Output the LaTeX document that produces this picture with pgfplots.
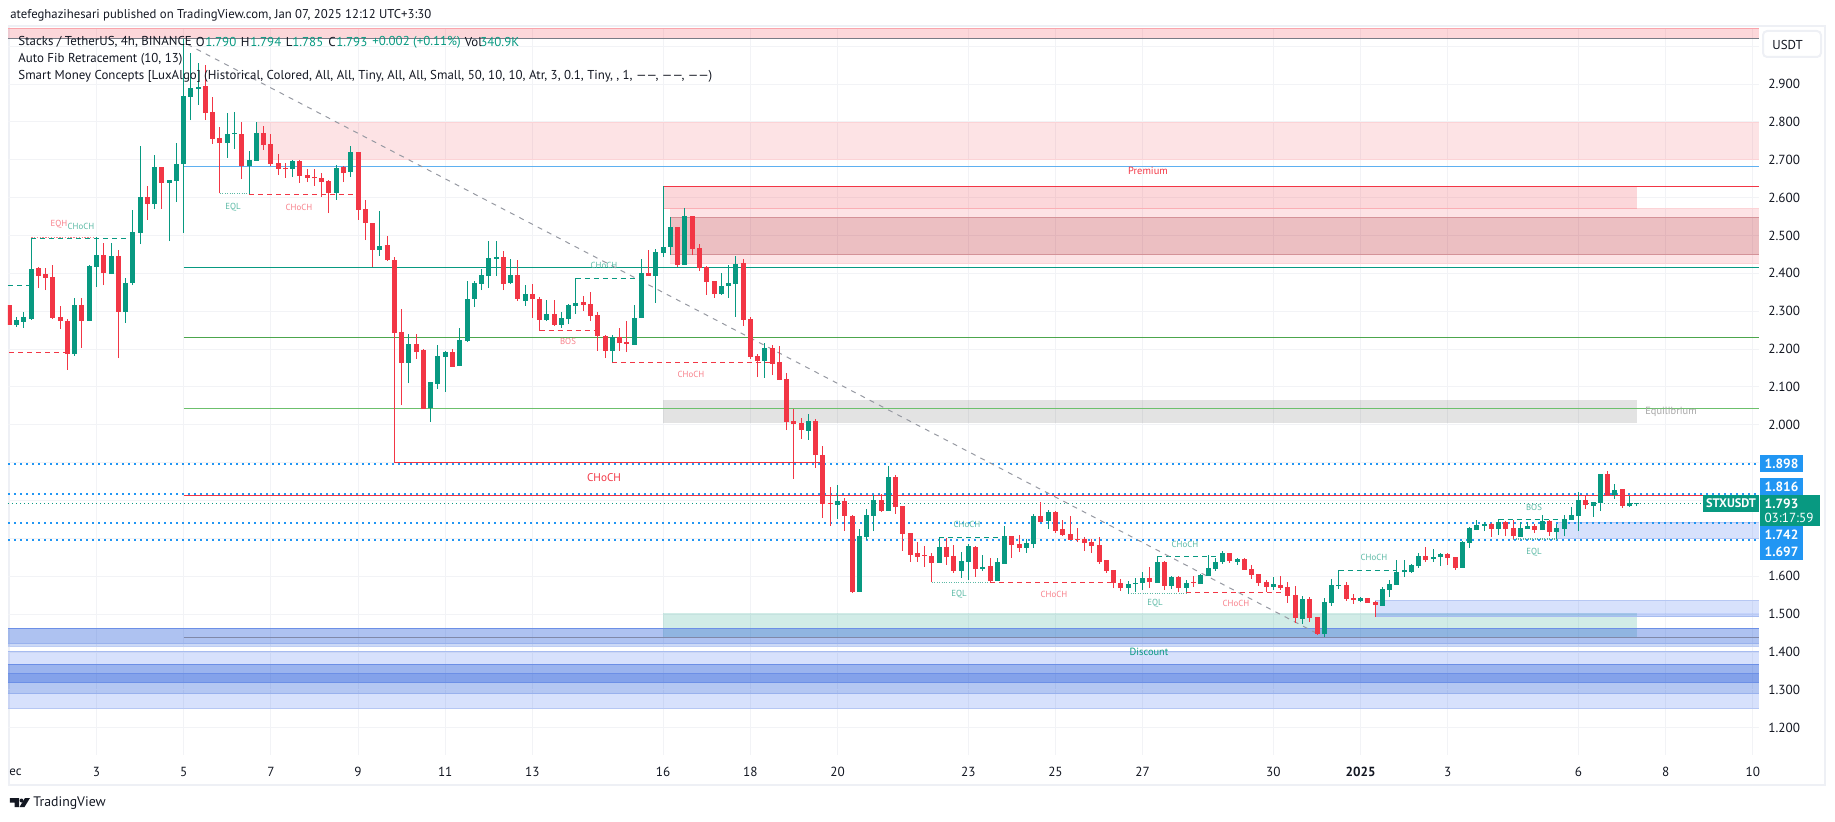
\documentclass[border=0pt]{standalone}
\usepackage{pgfplots}
\usepackage{pgfplotstable}
\usepackage{fontspec}
\setmainfont{PT Sans}
\pgfplotsset{compat=1.18}
\definecolor{up}{HTML}{089981}
\definecolor{dn}{HTML}{F23645}
\definecolor{gridc}{HTML}{F2F3F6}
\definecolor{framec}{HTML}{EEF0F5}
\definecolor{txt}{HTML}{131722}
\definecolor{dot}{HTML}{2196F3}
\definecolor{zb}{HTML}{1750D7}
\definecolor{zp}{HTML}{2458F0}
\definecolor{edge}{HTML}{6C8FE6}
\definecolor{pale}{HTML}{F7808A}
\definecolor{mint}{HTML}{5BB9A5}
\pgfplotstableread{
i o h l c
1 2.264 2.284 2.259 2.277
2 2.272 2.298 2.257 2.284
3 2.279 2.492 2.277 2.411
9 2.187 2.335 2.182 2.316
11 2.274 2.422 2.274 2.419
12 2.417 2.497 2.364 2.448
14 2.398 2.480 2.398 2.446
16 2.298 2.388 2.269 2.375
17 2.375 2.567 2.369 2.509
18 2.507 2.736 2.477 2.602
20 2.583 2.713 2.570 2.681
22 2.639 2.647 2.485 2.647
23 2.644 2.744 2.588 2.689
24 2.689 3.020 2.507 2.868
25 2.866 2.981 2.805 2.889
26 2.887 2.955 2.845 2.892
30 2.744 2.823 2.705 2.768
31 2.768 2.826 2.728 2.771
33 2.683 2.723 2.609 2.699
34 2.697 2.800 2.697 2.771
39 2.676 2.699 2.654 2.697
45 2.612 2.686 2.594 2.678
47 2.668 2.736 2.654 2.720
51 2.462 2.565 2.446 2.472
55 2.163 2.240 2.110 2.213
58 2.044 2.113 2.007 2.113
59 2.108 2.211 2.095 2.182
60 2.179 2.195 2.087 2.192
62 2.155 2.256 2.155 2.224
63 2.221 2.380 2.219 2.332
64 2.332 2.380 2.311 2.374
65 2.372 2.411 2.356 2.396
66 2.393 2.485 2.361 2.440
67 2.438 2.485 2.393 2.443
69 2.374 2.438 2.372 2.396
71 2.327 2.369 2.314 2.345
74 2.277 2.330 2.274 2.293
76 2.264 2.298 2.256 2.282
77 2.279 2.319 2.266 2.316
78 2.314 2.387 2.293 2.322
83 2.195 2.237 2.165 2.232
86 2.211 2.316 2.211 2.282
87 2.282 2.438 2.282 2.401
89 2.393 2.464 2.322 2.456
90 2.454 2.630 2.443 2.470
91 2.470 2.549 2.448 2.522
93 2.422 2.573 2.422 2.551
98 2.345 2.401 2.343 2.366
99 2.366 2.422 2.335 2.374
100 2.372 2.446 2.285 2.425
104 2.169 2.216 2.124 2.203
110 1.984 2.029 1.960 2.010
114 1.789 1.842 1.752 1.799
117 1.559 1.725 1.559 1.707
118 1.704 1.778 1.696 1.762
119 1.760 1.815 1.720 1.802
121 1.773 1.892 1.773 1.863
128 1.636 1.703 1.636 1.678
131 1.614 1.665 1.596 1.641
132 1.638 1.686 1.591 1.680
134 1.620 1.657 1.614 1.625
136 1.588 1.649 1.588 1.638
137 1.633 1.733 1.633 1.707
140 1.675 1.699 1.662 1.688
141 1.686 1.765 1.675 1.760
143 1.746 1.775 1.725 1.770
154 1.569 1.588 1.553 1.580
155 1.581 1.596 1.559 1.583
156 1.583 1.612 1.564 1.596
158 1.583 1.654 1.583 1.638
160 1.575 1.601 1.567 1.599
162 1.569 1.591 1.558 1.583
164 1.580 1.606 1.580 1.604
165 1.601 1.657 1.601 1.622
166 1.620 1.649 1.614 1.638
167 1.638 1.667 1.633 1.662
169 1.638 1.649 1.630 1.646
174 1.572 1.598 1.564 1.580
178 1.487 1.548 1.474 1.540
181 1.448 1.543 1.440 1.532
182 1.530 1.593 1.522 1.577
183 1.574 1.616 1.566 1.577
186 1.535 1.545 1.532 1.543
189 1.522 1.572 1.522 1.566
190 1.564 1.590 1.545 1.580
191 1.577 1.643 1.577 1.611
192 1.611 1.643 1.598 1.616
193 1.611 1.632 1.609 1.630
194 1.627 1.662 1.622 1.654
196 1.646 1.672 1.638 1.651
197 1.651 1.662 1.627 1.659
200 1.622 1.693 1.622 1.691
201 1.688 1.730 1.675 1.728
202 1.722 1.749 1.722 1.735
203 1.733 1.743 1.720 1.738
205 1.725 1.750 1.709 1.743
208 1.704 1.743 1.704 1.728
209 1.725 1.743 1.725 1.733
211 1.722 1.762 1.722 1.746
213 1.717 1.738 1.698 1.728
214 1.725 1.762 1.706 1.750
215 1.749 1.783 1.749 1.762
216 1.759 1.823 1.720 1.801
218 1.786 1.796 1.757 1.796
219 1.793 1.870 1.772 1.870
221 1.814 1.844 1.805 1.828
223 1.786 1.813 1.783 1.794
224 1.790 1.794 1.785 1.793
}\upbars
\pgfplotstableread{
i o h l c
0 2.316 2.316 2.264 2.264
4 2.414 2.416 2.362 2.393
5 2.398 2.414 2.356 2.388
6 2.390 2.422 2.279 2.282
7 2.285 2.314 2.253 2.274
8 2.274 2.279 2.145 2.187
10 2.316 2.335 2.203 2.274
13 2.448 2.480 2.369 2.401
15 2.446 2.462 2.176 2.298
19 2.602 2.631 2.541 2.583
21 2.681 2.681 2.570 2.639
27 2.895 2.950 2.805 2.823
28 2.826 2.867 2.742 2.755
29 2.757 2.786 2.611 2.744
32 2.768 2.800 2.649 2.683
35 2.771 2.789 2.726 2.739
36 2.742 2.768 2.683 2.689
37 2.691 2.715 2.660 2.676
38 2.678 2.691 2.652 2.676
40 2.697 2.699 2.639 2.657
41 2.660 2.676 2.641 2.652
42 2.654 2.676 2.631 2.651
43 2.652 2.665 2.602 2.641
44 2.644 2.647 2.559 2.612
46 2.681 2.683 2.641 2.665
48 2.720 2.720 2.541 2.567
49 2.570 2.594 2.488 2.533
50 2.533 2.533 2.417 2.462
52 2.475 2.499 2.433 2.435
53 2.435 2.443 1.900 2.242
54 2.245 2.306 2.052 2.163
56 2.213 2.240 2.174 2.192
57 2.198 2.200 2.042 2.042
61 2.192 2.200 2.153 2.153
68 2.443 2.459 2.356 2.372
70 2.396 2.435 2.327 2.332
72 2.345 2.372 2.282 2.332
73 2.332 2.337 2.249 2.277
75 2.293 2.330 2.261 2.264
79 2.324 2.340 2.300 2.316
80 2.319 2.351 2.274 2.287
81 2.290 2.298 2.195 2.234
82 2.234 2.237 2.176 2.195
84 2.232 2.256 2.195 2.216
85 2.219 2.274 2.192 2.214
88 2.401 2.462 2.393 2.393
92 2.522 2.522 2.417 2.422
94 2.551 2.551 2.448 2.464
95 2.467 2.477 2.406 2.414
96 2.417 2.419 2.343 2.377
97 2.380 2.380 2.335 2.345
101 2.427 2.438 2.261 2.277
102 2.279 2.285 2.174 2.179
103 2.182 2.187 2.126 2.169
105 2.203 2.211 2.131 2.161
106 2.166 2.208 2.118 2.118
107 2.121 2.137 1.986 2.007
108 2.010 2.042 1.857 2.002
109 2.005 2.018 1.962 1.986
111 2.010 2.015 1.886 1.920
112 1.921 1.945 1.754 1.791
113 1.794 1.836 1.733 1.791
115 1.799 1.807 1.720 1.760
116 1.760 1.762 1.556 1.559
120 1.802 1.818 1.770 1.773
122 1.863 1.868 1.765 1.783
123 1.786 1.786 1.667 1.712
124 1.715 1.715 1.638 1.657
125 1.662 1.691 1.638 1.651
126 1.657 1.680 1.625 1.654
127 1.654 1.661 1.584 1.636
129 1.678 1.701 1.630 1.651
130 1.654 1.683 1.609 1.614
133 1.678 1.680 1.599 1.620
135 1.628 1.649 1.584 1.588
138 1.707 1.707 1.649 1.683
139 1.686 1.709 1.665 1.675
142 1.760 1.797 1.744 1.744
144 1.770 1.773 1.715 1.720
145 1.725 1.749 1.707 1.709
146 1.712 1.760 1.696 1.696
147 1.699 1.728 1.691 1.696
148 1.699 1.704 1.667 1.688
149 1.691 1.699 1.662 1.680
150 1.683 1.704 1.633 1.638
151 1.643 1.643 1.609 1.614
152 1.617 1.617 1.569 1.583
153 1.583 1.593 1.562 1.569
157 1.596 1.625 1.569 1.585
159 1.638 1.641 1.564 1.575
161 1.599 1.601 1.559 1.569
163 1.585 1.601 1.572 1.583
168 1.662 1.662 1.636 1.641
170 1.646 1.649 1.617 1.617
171 1.620 1.630 1.593 1.604
172 1.606 1.606 1.575 1.583
173 1.585 1.591 1.558 1.572
175 1.577 1.601 1.564 1.569
176 1.572 1.585 1.530 1.548
177 1.551 1.574 1.477 1.490
179 1.540 1.545 1.479 1.490
180 1.492 1.492 1.445 1.448
184 1.577 1.585 1.535 1.540
185 1.543 1.553 1.527 1.537
187 1.543 1.543 1.530 1.530
188 1.532 1.535 1.492 1.524
195 1.654 1.677 1.638 1.643
198 1.659 1.662 1.630 1.648
199 1.651 1.651 1.617 1.622
204 1.738 1.741 1.704 1.725
206 1.743 1.746 1.706 1.725
207 1.728 1.749 1.698 1.706
210 1.733 1.738 1.714 1.722
212 1.746 1.749 1.706 1.717
217 1.801 1.815 1.778 1.788
220 1.870 1.878 1.814 1.814
222 1.831 1.831 1.781 1.786
}\dnbars
\newcommand{\PX}[2]{({(#1-8)*0.5pt},{(755-#2)*0.5pt})}
\newcommand{\XM}{240.84}
\newcommand{\zone}[6]{\addplot[forget plot,fill=#5,fill opacity=#6,draw=none] coordinates {(#1,#3)(#2,#3)(#2,#4)(#1,#4)} --cycle;}
\newcommand{\hl}[4]{\addplot[forget plot,#4] coordinates {(#1,#3)(#2,#3)};}
\tikzset{
 dashg/.style={up,line width=.5pt,dash pattern=on 2.5pt off 2pt},
 dashr/.style={dn,line width=.5pt,dash pattern=on 2.5pt off 2pt},
 eql/.style={mint,line width=.6pt,dash pattern=on .5pt off .7pt},
 dots/.style={dot,line width=1pt,dash pattern=on 1pt off 2pt},
 th/.style={line width=.5pt},
 lab/.style={inner sep=0pt,font=\fontsize{4.4}{5}\selectfont},
 lbl/.style={anchor=west,inner sep=0pt,font=\fontsize{6.45}{8}\selectfont,text=txt},
}
\newcommand{\sm}[4]{\node[lab,text=#1] at \PX{#2}{#3} {#4};}
\begin{document}
\begin{tikzpicture}
\useasboundingbox (-4pt,-33pt) rectangle (913.5pt,377.5pt);
\draw[framec,line width=1pt] \PX{9}{26} rectangle \PX{1825}{785};
\begin{axis}[at={(0,0)},anchor=south west,scale only axis,width=875.5pt,height=363.5pt,
 xmin=-0.18,xmax=\XM,ymin=1.128,ymax=3.048,
 axis line style={draw=none},tick style={draw=none},
 grid=major,major grid style={color=gridc,line width=.5pt},
 xtick={12,24,36,48,60,72,90,102,114,132,144,156,174,186,198,216,228,240},
 xticklabels={3,5,7,9,11,13,16,18,20,23,25,27,30,\textbf{2025},3,6,8,10},
 ytick={1.2,1.3,1.4,1.5,1.6,1.7,1.8,1.9,2.0,2.1,2.2,2.3,2.4,2.5,2.6,2.7,2.8,2.9,3.0},
 yticklabels={1.200,1.300,1.400,1.500,1.600,{},{},{},2.000,2.100,2.200,2.300,2.400,2.500,2.600,2.700,2.800,2.900,{}},
 yticklabel pos=right,
 yticklabel style={anchor=west,inner sep=0pt,xshift=4.5pt,font=\fontsize{6.6}{8}\selectfont,text=txt},
 xticklabel style={anchor=center,inner sep=0pt,yshift=-8.5pt,font=\fontsize{6.6}{8}\selectfont,text=txt},
 clip=true,no markers]
% zones
\zone{-0.18}{\XM}{3.047}{3.0207}{dn}{.2}
\zone{34}{\XM}{2.7988}{2.700}{dn}{.14}
\zone{90}{224}{2.629}{2.571}{dn}{.2}
\zone{91}{\XM}{2.571}{2.4255}{dn}{.14}
\zone{91}{\XM}{2.548}{2.449}{black}{.07}
\zone{91}{\XM}{2.548}{2.449}{dn}{.13}
\zone{90}{224}{2.0656}{2.005}{black}{.11}
\zone{90}{224}{1.5023}{1.4389}{up}{.19}
\zone{-0.18}{\XM}{1.4627}{1.4231}{zb}{.35}
\zone{-0.18}{\XM}{1.4231}{1.4141}{zb}{.22}
\zone{-0.18}{\XM}{1.402}{1.3676}{zp}{.18}
\zone{-0.18}{\XM}{1.3676}{1.3439}{zb}{.43}
\zone{-0.18}{\XM}{1.3439}{1.3191}{zb}{.53}
\zone{-0.18}{\XM}{1.3191}{1.29}{zb}{.32}
\zone{-0.18}{\XM}{1.29}{1.2504}{zp}{.18}
\zone{188}{\XM}{1.5348}{1.4936}{zp}{.18}
\zone{188}{\XM}{1.5023}{1.4936}{zp}{.1}
\zone{213}{\XM}{1.7417}{1.70}{zp}{.18}
% zone edges
\hl{-0.18}{\XM}{3.0465}{dn!45,th}
\hl{-0.18}{\XM}{3.0207}{color={rgb,255:red,120;green,123;blue,134},line width=.6pt}
\hl{34}{\XM}{2.7988}{dn!22,th}
\hl{34}{\XM}{2.700}{dn!22,th}
\hl{90}{224}{2.571}{dn!40,th}
\hl{224}{\XM}{2.571}{dn!22,th}
\hl{91}{\XM}{2.4255}{dn!22,th}
\hl{91}{\XM}{2.548}{black!30!dn!50,th}
\hl{91}{\XM}{2.449}{black!30!dn!50,th}
\hl{-0.18}{\XM}{1.4627}{edge,line width=.6pt}
\hl{24}{\XM}{1.4389}{color={rgb,255:red,128;green,136;blue,168},line width=.6pt}
\hl{-0.18}{\XM}{1.4231}{edge!70,th}
\hl{-0.18}{\XM}{1.4141}{edge!45,th}
\hl{-0.18}{\XM}{1.402}{edge!60,th}
\hl{-0.18}{\XM}{1.3676}{edge,line width=.6pt}
\hl{-0.18}{\XM}{1.3439}{edge,th}
\hl{-0.18}{\XM}{1.3191}{edge,line width=.6pt}
\hl{-0.18}{\XM}{1.3016}{edge!50,th}
\hl{-0.18}{\XM}{1.29}{edge!70,th}
\hl{-0.18}{\XM}{1.2504}{edge!50,th}
\hl{188}{\XM}{1.5348}{edge!50,th}
\hl{188}{\XM}{1.4936}{edge!60,th}
\hl{213}{\XM}{1.7417}{edge!50,th}
\hl{213}{\XM}{1.70}{edge!50,th}
% long levels
\hl{24}{\XM}{2.6826}{color={rgb,255:red,95;green,176;blue,240},line width=.55pt}
\hl{90}{\XM}{2.629}{dn,line width=.55pt}
\hl{24}{\XM}{2.416}{up,line width=.55pt}
\hl{24}{\XM}{2.2305}{color={rgb,255:red,76;green,166;blue,76},line width=.55pt}
\hl{24}{\XM}{2.0436}{color={rgb,255:red,108;green,192;blue,108},line width=.55pt}
\hl{-0.18}{\XM}{1.8975}{dots}
\hl{-0.18}{\XM}{1.816}{dots}
\hl{-0.18}{\XM}{1.742}{dots}
\hl{-0.18}{\XM}{1.697}{dots}
\hl{24}{\XM}{1.8124}{dn,line width=.55pt}
\hl{53}{112}{1.9005}{dn,line width=.55pt}
\hl{-0.18}{\XM}{1.793}{up,line width=.5pt,dash pattern=on .5pt off 1.5pt}
% structure lines
\hl{-0.18}{3}{2.368}{dashg}
\hl{0}{8}{2.1914}{dashr}
\hl{3}{17}{2.4924}{dashg}
\hl{3}{12}{2.4945}{color=pale,line width=.6pt,dash pattern=on .7pt off .7pt}
\hl{29}{33}{2.6104}{eql}
\hl{33}{48}{2.6086}{dashr}
\hl{78}{87}{2.3868}{dashg}
\hl{73}{81}{2.2494}{dashr}
\hl{83}{105}{2.165}{dashr}
\hl{128}{137}{1.7033}{dashg}
\hl{127}{135}{1.5844}{eql}
\hl{135}{152}{1.5844}{dashr}
\hl{158}{167}{1.653}{dashg}
\hl{154}{162}{1.5555}{eql}
\hl{162}{176}{1.558}{dashr}
\hl{183}{191}{1.6157}{dashg}
\hl{205}{214}{1.7504}{dashg}
\hl{207}{213}{1.6985}{eql}
% fib trend line
\addplot[forget plot,color={rgb,255:red,150;green,153;blue,162},line width=.5pt,dash pattern=on 2.5pt off 2.7pt] coordinates {(24.5,3.005)(180,1.449)};
% candles
\addplot[forget plot,draw=none,error bars/.cd,y dir=plus,y explicit,error mark=none,error bar style={up,line width=.5pt}] table[x=i,y=l,y error plus expr=\thisrow{h}-\thisrow{l}] {\upbars};
\addplot[forget plot,draw=none,error bars/.cd,y dir=plus,y explicit,error mark=none,error bar style={dn,line width=.5pt}] table[x=i,y=l,y error plus expr=\thisrow{h}-\thisrow{l}] {\dnbars};
\addplot[forget plot,draw=none,error bars/.cd,y dir=plus,y explicit,error mark=none,error bar style={up,line width=2.5pt}] table[x=i,y=o,y error plus expr=\thisrow{c}-\thisrow{o}] {\upbars};
\addplot[forget plot,draw=none,error bars/.cd,y dir=plus,y explicit,error mark=none,error bar style={dn,line width=2.5pt}] table[x=i,y=c,y error plus expr=\thisrow{o}-\thisrow{c}] {\dnbars};
\end{axis}
% small pattern labels
\sm{pale}{59}{224}{EQH}
\sm{mint}{81}{226}{CHoCH}
\sm{mint}{233}{207}{EQL}
\sm{pale}{299}{207}{CHoCH}
\sm{mint}{604}{265}{CHoCH}
\sm{pale}{568}{341}{BOS}
\sm{pale}{691}{374}{CHoCH}
\sm{mint}{967}{524}{CHoCH}
\sm{mint}{959}{594}{EQL}
\sm{pale}{1054}{594}{CHoCH}
\sm{mint}{1185}{544}{CHoCH}
\sm{mint}{1155}{603}{EQL}
\sm{pale}{1236}{603}{CHoCH}
\sm{mint}{1374}{557}{CHoCH}
\sm{mint}{1534}{507}{BOS}
\sm{mint}{1534}{552}{EQL}
\node[lab,text=dn,font=\fontsize{5.6}{6}\selectfont] at \PX{604}{478} {CHoCH};
\node[lab,text=dn,font=\fontsize{5.2}{6}\selectfont] at \PX{1148}{171} {Premium};
\node[lab,text=up,font=\fontsize{5.2}{6}\selectfont] at \PX{1149}{652} {Discount};
\node[lab,text=black!35,font=\fontsize{5.2}{6}\selectfont] at \PX{1671}{412} {Equilibrium};
% header and legend
\node[lbl,font=\fontsize{6.37}{8}\selectfont] at \PX{10}{15} {atefeghazihesari published on TradingView.com, Jan 07, 2025 12:12 UTC+3:30};
\node[lbl] at \PX{18}{42} {Stacks / TetherUS, 4h, BINANCE};
\node[lbl] at \PX{195.5}{42} {O};
\node[lbl,text=up] at \PX{205}{42} {1.790};
\node[lbl] at \PX{240.5}{42} {H};
\node[lbl,text=up] at \PX{250}{42} {1.794};
\node[lbl] at \PX{285.5}{42} {L};
\node[lbl,text=up] at \PX{292}{42} {1.785};
\node[lbl] at \PX{328}{42} {C};
\node[lbl,text=up] at \PX{336}{42} {1.793};
\node[lbl,text=up] at \PX{372}{42} {+0.002 (+0.11\%)};
\node[lbl] at \PX{464.5}{42} {Vol};
\node[lbl,text=up] at \PX{480}{42} {340.9K};
\node[lbl] at \PX{18}{59} {Auto Fib Retracement (10, 13)};
\node[lbl] at \PX{18}{76} {Smart Money Concepts [LuxAlgo] (Historical, Colored, All, All, Tiny, All, All, Small, 50, 10, 10, Atr, 3, 0.1, Tiny, , 1, ——, ——, ——)};
% USDT button
\draw[framec,line width=1pt,rounded corners=2pt,fill=white] \PX{1763}{31} rectangle \PX{1821}{57};
\node[lbl] at \PX{1772}{44.5} {USDT};
% price tags
\tikzset{tag/.style={inner sep=0pt,font=\fontsize{6.7}{8}\selectfont\bfseries,text=white}}
\fill[dot] \PX{1760}{455} rectangle \PX{1803}{472};
\node[tag] at \PX{1781.5}{464} {1.898};
\fill[dot] \PX{1760}{478} rectangle \PX{1803}{495};
\node[tag] at \PX{1781.5}{487} {1.816};
\fill[dot] \PX{1760}{526} rectangle \PX{1803}{543};
\node[tag] at \PX{1781.5}{535} {1.742};
\fill[dot] \PX{1760}{543} rectangle \PX{1803}{560};
\node[tag] at \PX{1781.5}{552} {1.697};
\fill[up] \PX{1703}{495} rectangle \PX{1759}{512};
\node[tag,font=\fontsize{6.2}{8}\selectfont\bfseries] at \PX{1731}{503.5} {STXUSDT};
\fill[up] \PX{1760}{495} rectangle \PX{1820}{526};
\node[tag] at \PX{1781.5}{503.5} {1.793};
\node[tag,font=\fontsize{6.6}{8}\selectfont] at \PX{1789}{517.5} {03:17:59};
% time-axis clipped label and logo
\node[lbl] at \PX{9}{772} {ec};
\fill[txt] \PX{10}{798} -- \PX{19}{798} -- \PX{19}{807} -- \PX{14.5}{807} -- \PX{14.5}{802.5} -- \PX{10}{802.5} -- cycle;
\fill[txt] \PX{21.5}{800.5} circle (1pt);
\fill[txt] \PX{25}{798} -- \PX{30}{798} -- \PX{24.5}{807} -- \PX{19.5}{807} -- cycle;
\node[lbl,font=\fontsize{6.9}{9}\selectfont] at \PX{33}{803.5} {TradingView};
\end{tikzpicture}
\end{document}
